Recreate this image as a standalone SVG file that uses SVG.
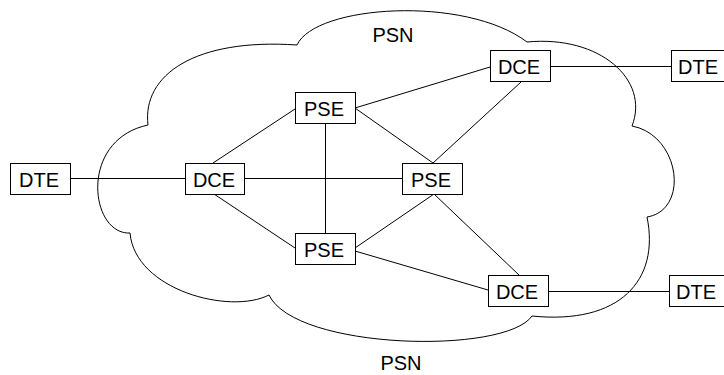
<svg xmlns="http://www.w3.org/2000/svg" width="724" height="375" viewBox="0 0 724 375">
<style>
.box{fill:#fff;stroke:#000;stroke-width:1}
.lbl{font-family:"Liberation Sans",Arial,sans-serif;font-size:20px;fill:#000;text-anchor:middle}
.ln{stroke:#000;stroke-width:1;fill:none}
</style>
<rect width="724" height="375" fill="#fff"/>
<g id="cloud">
<path class="ln" d="M148,125 C142,75 195,38 297,45 C315,5 465,-5 527,42 C600,35 650,80 632,126 C680,135 690,210 647,217 C660,280 620,325 532,316 C505,355 295,350 269,295 C230,315 135,290 130,233 C90,235 78,140 148,125 Z"/>
<text class="lbl" x="393" y="42">PSN</text>
<text class="lbl" x="401" y="370">PSN</text>
</g>
<g id="connectors">
<line class="ln" x1="70" y1="178.5" x2="185" y2="178.5"/>
<line class="ln" x1="213" y1="163" x2="295" y2="109"/>
<line class="ln" x1="244" y1="178.5" x2="402" y2="178.5"/>
<line class="ln" x1="214" y1="194" x2="295" y2="248"/>
<line class="ln" x1="325.5" y1="124" x2="325.5" y2="233"/>
<line class="ln" x1="355" y1="108" x2="490" y2="67"/>
<line class="ln" x1="355" y1="108" x2="433" y2="163"/>
<line class="ln" x1="521" y1="82" x2="433" y2="163"/>
<line class="ln" x1="550" y1="66.5" x2="671" y2="66.5"/>
<line class="ln" x1="355" y1="248" x2="434" y2="194"/>
<line class="ln" x1="355" y1="251" x2="488" y2="290"/>
<line class="ln" x1="434" y1="194" x2="519" y2="275"/>
<line class="ln" x1="548" y1="291.5" x2="669" y2="291.5"/>
</g>
<g id="dte-left"><rect class="box" x="10.5" y="163.5" width="60" height="31"/><text class="lbl" x="39" y="187">DTE</text></g>
<g id="dce-left"><rect class="box" x="185.5" y="163.5" width="59" height="31"/><text class="lbl" x="214" y="187">DCE</text></g>
<g id="pse-top"><rect class="box" x="295.5" y="92.5" width="60" height="31"/><text class="lbl" x="324" y="116">PSE</text></g>
<g id="pse-bottom"><rect class="box" x="295.5" y="233.5" width="60" height="31"/><text class="lbl" x="324" y="257">PSE</text></g>
<g id="pse-right"><rect class="box" x="402.5" y="163.5" width="60" height="31"/><text class="lbl" x="431" y="187">PSE</text></g>
<g id="dce-top-right"><rect class="box" x="490.5" y="50.5" width="60" height="31"/><text class="lbl" x="519" y="74">DCE</text></g>
<g id="dte-top-right"><rect class="box" x="671.5" y="50.5" width="60" height="31"/><text class="lbl" x="698" y="74">DTE</text></g>
<g id="dce-bottom-right"><rect class="box" x="488.5" y="275.5" width="60" height="31"/><text class="lbl" x="517" y="299">DCE</text></g>
<g id="dte-bottom-right"><rect class="box" x="669.5" y="275.5" width="60" height="31"/><text class="lbl" x="696" y="299">DTE</text></g>
</svg>
